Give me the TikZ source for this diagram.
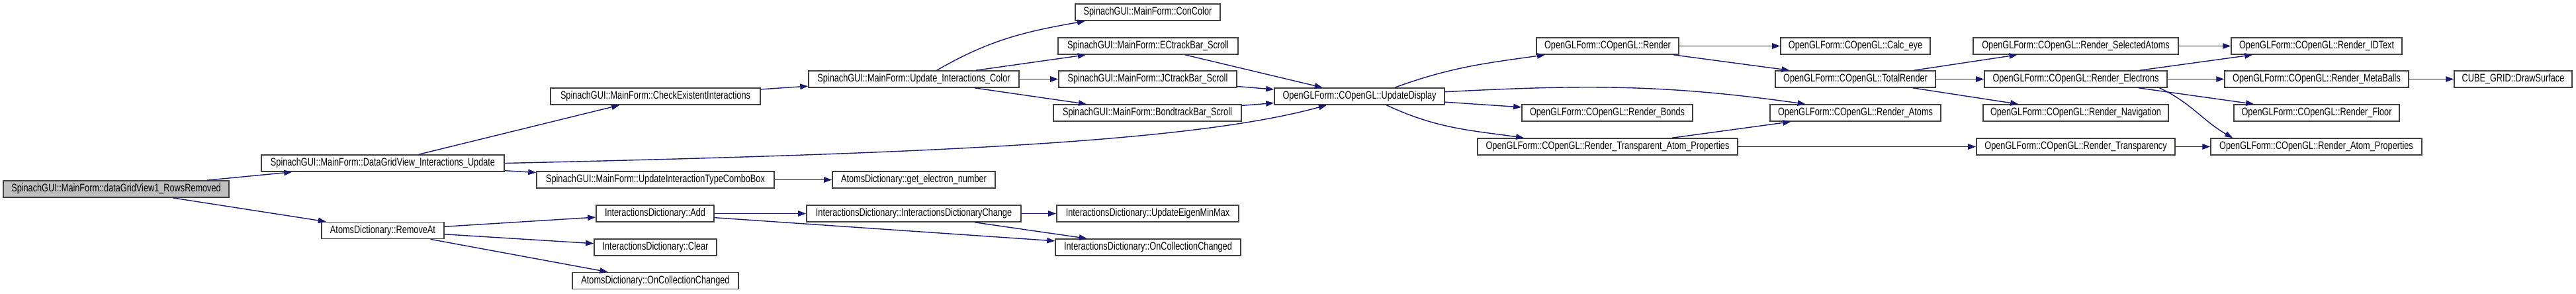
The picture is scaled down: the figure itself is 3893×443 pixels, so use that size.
\documentclass[tikz,border=0pt]{standalone}
\usepackage{fontspec}
\setmainfont{Liberation Sans}[FakeStretch=0.77]
\usetikzlibrary{arrows.meta}
\definecolor{edgeblue}{HTML}{191970}
\definecolor{boxline}{HTML}{404040}
\definecolor{rootfill}{HTML}{BFBFBF}
\tikzset{
  fn/.style={draw=boxline, line width=0.45pt, fill=white, minimum height=2.5mm,
    inner sep=0pt, font=\fontsize{4.7pt}{5pt}\selectfont},
  call/.style={->, draw=edgeblue, line width=0.4pt},
}

\begin{document}
\begin{tikzpicture}[x=0.1mm,y=0.1mm,>={Triangle[length=1.2mm,width=0.85mm]}]
  \useasboundingbox (0,0) rectangle (3893,-443);
  % callers side
  \node[fn, fill=rootfill, minimum width=34.1mm] (root) at (175.5,-285.5) {SpinachGUI::MainForm::dataGridView1\_RowsRemoved};
  \node[fn, minimum width=36.7mm] (dgv) at (578.5,-246.5) {SpinachGUI::MainForm::DataGridView\_Interactions\_Update};
  \node[fn, minimum width=18.5mm] (remat) at (578.5,-348) {AtomsDictionary::RemoveAt};
  \node[fn, minimum width=31.7mm] (check) at (990.5,-145.5) {SpinachGUI::MainForm::CheckExistentInteractions};
  \node[fn, minimum width=35.9mm] (combo) at (990.5,-271.5) {SpinachGUI::MainForm::UpdateInteractionTypeComboBox};
  \node[fn, minimum width=17.8mm] (add) at (990,-322.5) {InteractionsDictionary::Add};
  \node[fn, minimum width=18.5mm] (clear) at (990.5,-373.5) {InteractionsDictionary::Clear};
  \node[fn, minimum width=25.1mm] (atocc) at (990.5,-424) {AtomsDictionary::OnCollectionChanged};
  \node[fn, minimum width=31.8mm] (color) at (1381,-119.5) {SpinachGUI::MainForm::Update\_Interactions\_Color};
  \node[fn, minimum width=24.6mm] (elec) at (1381,-271.5) {AtomsDictionary::get\_electron\_number};
  \node[fn, minimum width=32.4mm] (idchange) at (1381,-322.5) {InteractionsDictionary::InteractionsDictionaryChange};
  \node[fn, minimum width=21.9mm] (concolor) at (1734.5,-18.5) {SpinachGUI::MainForm::ConColor};
  \node[fn, minimum width=27.2mm] (ectrack) at (1735,-69.5) {SpinachGUI::MainForm::ECtrackBar\_Scroll};
  \node[fn, minimum width=26.9mm] (jctrack) at (1734.5,-119.5) {SpinachGUI::MainForm::JCtrackBar\_Scroll};
  \node[fn, minimum width=28.4mm] (bondtrack) at (1734,-170.5) {SpinachGUI::MainForm::BondtrackBar\_Scroll};
  \node[fn, minimum width=27.5mm] (eigen) at (1734.5,-322.5) {InteractionsDictionary::UpdateEigenMinMax};
  \node[fn, minimum width=28mm] (idocc) at (1735,-373.5) {InteractionsDictionary::OnCollectionChanged};
  % OpenGL side
  \node[fn, minimum width=25.7mm] (upd) at (2054.5,-145.5) {OpenGLForm::COpenGL::UpdateDisplay};
  \node[fn, minimum width=21.5mm] (render) at (2429.5,-69.5) {OpenGLForm::COpenGL::Render};
  \node[fn, minimum width=25.8mm] (bonds) at (2429,-170.5) {OpenGLForm::COpenGL::Render\_Bonds};
  \node[fn, minimum width=39.3mm] (transatom) at (2429.5,-221.5) {OpenGLForm::COpenGL::Render\_Transparent\_Atom\_Properties};
  \node[fn, minimum width=22.6mm] (calceye) at (2804,-69.5) {OpenGLForm::COpenGL::Calc\_eye};
  \node[fn, minimum width=24.2mm] (total) at (2804,-119.5) {OpenGLForm::COpenGL::TotalRender};
  \node[fn, minimum width=25.8mm] (atoms) at (2804,-170.5) {OpenGLForm::COpenGL::Render\_Atoms};
  \node[fn, minimum width=31mm] (selatoms) at (3137,-69.5) {OpenGLForm::COpenGL::Render\_SelectedAtoms};
  \node[fn, minimum width=27.6mm] (electrons) at (3137,-119.5) {OpenGLForm::COpenGL::Render\_Electrons};
  \node[fn, minimum width=28mm] (navig) at (3137,-170.5) {OpenGLForm::COpenGL::Render\_Navigation};
  \node[fn, minimum width=30mm] (transp) at (3137,-221.5) {OpenGLForm::COpenGL::Render\_Transparency};
  \node[fn, minimum width=25.8mm] (idtext) at (3501,-69.5) {OpenGLForm::COpenGL::Render\_IDText};
  \node[fn, minimum width=27.8mm] (metaballs) at (3501,-119.5) {OpenGLForm::COpenGL::Render\_MetaBalls};
  \node[fn, minimum width=17.8mm] (cube) at (3798,-119.5) {CUBE\_GRID::DrawSurface};
  \node[fn, minimum width=25mm] (floor) at (3501,-170.5) {OpenGLForm::COpenGL::Render\_Floor};
  \node[fn, minimum width=31.9mm] (atomprop) at (3500.5,-221.5) {OpenGLForm::COpenGL::Render\_Atom\_Properties};
  % straight calls
  \foreach \a/\b in {root/dgv, root/remat, dgv/check, dgv/combo, combo/elec,
      check/color, color/ectrack, color/jctrack, color/bondtrack,
      ectrack/upd, jctrack/upd, bondtrack/upd,
      remat/add, remat/clear, remat/atocc, add/idchange, add/idocc,
      idchange/eigen, idchange/idocc, upd/bonds, render/calceye, render/total,
      transatom/atoms, transatom/transp, total/selatoms, total/electrons, total/navig,
      selatoms/idtext, electrons/idtext, electrons/metaballs, electrons/floor,
      transp/atomprop, metaballs/cube}
    \draw[call] (\a) -- (\b);
  % curved calls
  \draw[call] (color.21) to[out=30,in=190] (concolor.188);
  \draw[call] (dgv.east) .. controls (1400,-232) and (1800,-215) .. (upd.195);
  \draw[call] (upd.14) to[out=20,in=188] (render.188);
  \draw[call] (upd.-18) to[out=-25,in=172] (transatom.174);
  \draw[call] (upd.3) to[out=3,in=172] (atoms.170);
  \draw[call] (electrons.-6) to[out=-25,in=150] (atomprop.174);
\end{tikzpicture}
\end{document}
